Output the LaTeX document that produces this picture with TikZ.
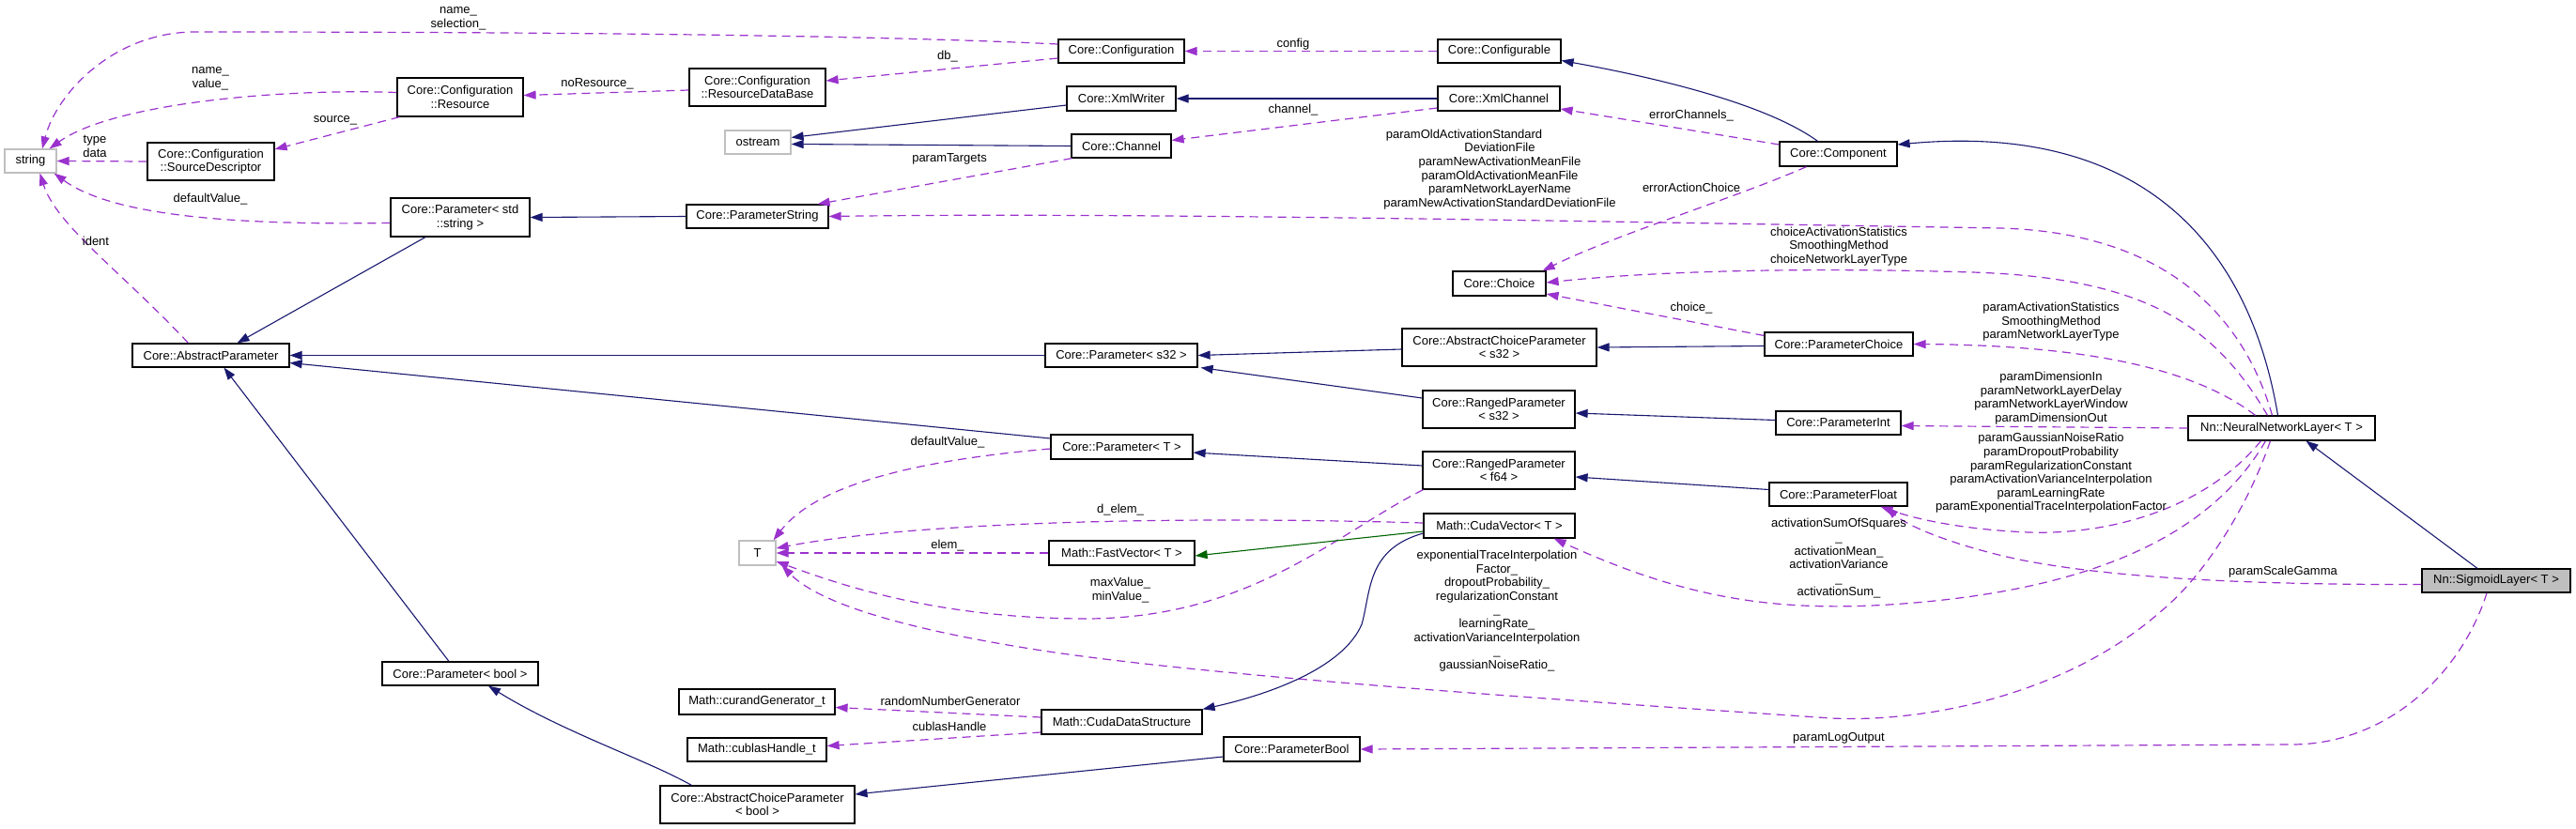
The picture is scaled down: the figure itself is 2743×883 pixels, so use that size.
\documentclass[tikz,border=0pt]{standalone}
\usepackage{fontspec}
\setmainfont{Liberation Sans}
\usetikzlibrary{arrows.meta,calc}
\definecolor{navy}{HTML}{191970}
\definecolor{orch}{HTML}{9A32CD}
\definecolor{dgreen}{HTML}{006400}
\definecolor{lgray}{HTML}{BFBFBF}
\begin{document}
\begin{tikzpicture}[x=1pt,y=-1pt,
  every node/.style={font=\fontsize{13}{14.6}\selectfont},
  box/.style={draw=black, line width=1.2pt, fill=white, inner sep=0pt, align=center},
  gbox/.style={box, draw=lgray},
  sbox/.style={box, fill=lgray},
  lbl/.style={inner sep=0pt, align=center},
  inh/.style={draw=navy, line width=1.1pt, -{Triangle[length=13pt,width=9pt]}},
  usee/.style={draw=orch, line width=1.2pt, dash pattern=on 9pt off 6pt, -{Triangle[length=13pt,width=9pt]}},
  tmpl/.style={draw=dgreen, line width=1.1pt, -{Triangle[length=13pt,width=9pt]}}]
\useasboundingbox[fill=white] (0,0) rectangle (2743,883);

% nodes
\node[gbox, minimum width=55pt, minimum height=25pt] (str) at (32.5,171.5) {string};
\node[box, minimum width=134pt, minimum height=41pt] (res) at (490,103.5) {Core::Configuration\\::Resource};
\node[box, minimum width=145pt, minimum height=40pt] (rdb) at (806.5,93) {Core::Configuration\\::ResourceDataBase};
\node[gbox, minimum width=70pt, minimum height=25pt] (ostr) at (807,151.5) {ostream};
\node[box, minimum width=135pt, minimum height=40pt] (srcd) at (224.5,172) {Core::Configuration\\::SourceDescriptor};
\node[box, minimum width=148pt, minimum height=41pt] (pstd) at (490,231.5) {Core::Parameter< std\\::string >};
\node[box, minimum width=151pt, minimum height=25pt] (pstr) at (806.5,230.5) {Core::ParameterString};
\node[box, minimum width=167pt, minimum height=25pt] (absp) at (224.5,378.5) {Core::AbstractParameter};
\node[box, minimum width=134pt, minimum height=25pt] (conf) at (1194,54.5) {Core::Configuration};
\node[box, minimum width=131pt, minimum height=25pt] (cfgb) at (1596.5,54.5) {Core::Configurable};
\node[box, minimum width=116pt, minimum height=26pt] (xmlw) at (1194,105) {Core::XmlWriter};
\node[box, minimum width=130pt, minimum height=26pt] (xmlc) at (1596,105) {Core::XmlChannel};
\node[box, minimum width=106pt, minimum height=25pt] (chan) at (1194,155.5) {Core::Channel};
\node[box, minimum width=125pt, minimum height=26pt] (comp) at (1957.5,164) {Core::Component};
\node[box, minimum width=99pt, minimum height=26pt] (choi) at (1596.5,302) {Core::Choice};
\node[box, minimum width=162pt, minimum height=25pt] (ps32) at (1194,378.5) {Core::Parameter< s32 >};
\node[box, minimum width=207pt, minimum height=40pt] (acs32) at (1596.5,370) {Core::AbstractChoiceParameter\\< s32 >};
\node[box, minimum width=158pt, minimum height=25pt] (pcho) at (1958,366.5) {Core::ParameterChoice};
\node[box, minimum width=162pt, minimum height=40pt] (rs32) at (1596,436) {Core::RangedParameter\\< s32 >};
\node[box, minimum width=133pt, minimum height=25pt] (pint) at (1957.5,450.5) {Core::ParameterInt};
\node[box, minimum width=199pt, minimum height=26pt] (nnl) at (2429.5,456) {Nn::NeuralNetworkLayer< T >};
\node[box, minimum width=151pt, minimum height=26pt] (pT) at (1194.5,476) {Core::Parameter< T >};
\node[box, minimum width=162pt, minimum height=40pt] (rf64) at (1596,501) {Core::RangedParameter\\< f64 >};
\node[box, minimum width=147pt, minimum height=25pt] (pflt) at (1957.5,526.5) {Core::ParameterFloat};
\node[box, minimum width=161pt, minimum height=26pt] (cvec) at (1596.5,560) {Math::CudaVector< T >};
\node[box, minimum width=155pt, minimum height=26pt] (fvec) at (1194.5,589) {Math::FastVector< T >};
\node[box, minimum width=171pt, minimum height=26pt] (cds) at (1194.5,769) {Math::CudaDataStructure};
\node[box, minimum width=145pt, minimum height=26pt] (pbool) at (1375.5,798) {Core::ParameterBool};
\node[box, minimum width=207pt, minimum height=40pt] (acpb) at (806.5,857) {Core::AbstractChoiceParameter\\< bool >};
\node[gbox, minimum width=39pt, minimum height=26pt] (T) at (806.5,589) {T};
\node[box, minimum width=166pt, minimum height=25pt] (pbl) at (490,717.5) {Core::Parameter< bool >};
\node[box, minimum width=166pt, minimum height=27pt] (curg) at (806,747.5) {Math::curandGenerator\_t};
\node[box, minimum width=148pt, minimum height=25pt] (cubh) at (806,798.5) {Math::cublasHandle\_t};
\node[sbox, minimum width=158pt, minimum height=25pt] (sig) at (2658,618.5) {Nn::SigmoidLayer< T >};

% edges
\draw[usee] ($(conf.west)+(0,-7.5)$) .. controls (900,36) and (500,34) .. (206,34) .. controls (120,35) and (60,100) .. ($(str.north)+(12.5,0)$);
\draw[usee] ($(conf.west)+(0,7.5)$) -- ($(rdb.east)+(0,-7)$);
\draw[usee] ($(rdb.west)+(0,3)$) -- ($(res.east)+(0,-2)$);
\draw[usee] ($(res.west)+(0,-5)$) .. controls (300,94) and (120,110) .. ($(str.north east)+(-8,0)$);
\draw[usee] ($(res.south west)+(3,0)$) -- ($(srcd.east)+(0,-13)$);
\draw[usee] (srcd.west) -- (str.east);
\draw[usee] ($(pstd.west)+(0,6)$) .. controls (250,240) and (120,230) .. ($(str.south east)+(-3,0)$);
\draw[usee] ($(absp.north)+(-24,0)$) .. controls (130,290) and (60,240) .. ($(str.south)+(10,0)$);
\draw[inh] ($(xmlw.west)+(0,7)$) -- ($(ostr.east)+(0,-5)$);
\draw[inh] (chan.west) -- ($(ostr.east)+(0,2)$);
\draw[inh] (xmlc.west) -- (xmlw.east);
\draw[usee] ($(xmlc.west)+(0,10)$) -- ($(chan.east)+(0,-6)$);
\draw[usee] (cfgb.west) -- (conf.east);
\draw[inh] ($(comp.north)+(-22,0)$) .. controls (1880,110) and (1760,82) .. ($(cfgb.east)+(0,10)$);
\draw[usee] ($(comp.west)+(0,-10)$) -- ($(xmlc.east)+(0,11)$);
\draw[usee] ($(comp.south)+(-34,0)$) .. controls (1850,210) and (1720,250) .. ($(choi.north east)+(-4,0)$);
\draw[usee] ($(chan.south west)+(1,0)$) -- ($(pstr.north east)+(-12,0)$);
\draw[inh] (pstr.west) -- (pstd.east);
\draw[usee] ($(nnl.north)+(-10,0)$) .. controls (2390,340) and (2310,248) .. (2130,243) .. controls (1700,236) and (1200,226) .. (pstr.east);
\draw[usee] ($(nnl.north)+(-15,0)$) .. controls (2360,350) and (2290,296) .. (2100,290) .. controls (1900,284) and (1750,290) .. ($(choi.east)+(0,-1)$);
\draw[usee] ($(pcho.west)+(0,-9)$) -- ($(choi.east)+(0,11)$);
\draw[usee] ($(nnl.north)+(-28,0)$) .. controls (2340,395) and (2230,368) .. (pcho.east);
\draw[inh] ($(pcho.west)+(0,2)$) -- (acs32.east);
\draw[inh] ($(acs32.west)+(0,2)$) -- (ps32.east);
\draw[inh] ($(rs32.west)+(0,-12)$) -- ($(ps32.south east)+(3,0)$);
\draw[inh] ($(pint.west)+(0,-3)$) -- ($(rs32.east)+(0,4)$);
\draw[usee] (nnl.west) -- ($(pint.east)+(0,3)$);
\draw[inh] ($(pstd.south)+(-37,0)$) -- ($(absp.north)+(28,0)$);
\draw[inh] (ps32.west) -- (absp.east);
\draw[inh] ($(pT.west)+(0,-9)$) -- ($(absp.east)+(0,8)$);
\draw[inh] ($(pbl.north)+(-12,0)$) -- ($(absp.south)+(14,0)$);
\draw[inh] ($(acpb.north west)+(34,0)$) .. controls (690,810) and (600,780) .. ($(pbl.south)+(30,0)$);
\draw[inh] ($(pbool.west)+(0,8)$) -- ($(acpb.east)+(0,-11)$);
\draw[inh] ($(rf64.west)+(0,-5)$) -- ($(pT.east)+(0,6)$);
\draw[inh] ($(pflt.west)+(0,-5)$) -- ($(rf64.east)+(0,7)$);
\draw[usee] ($(pT.west)+(0,2)$) .. controls (980,490) and (870,515) .. ($(T.north east)+(-3,0)$);
\draw[usee] ($(cvec.west)+(0,-3)$) .. controls (1200,548) and (950,560) .. ($(T.east)+(0,-5)$);
\draw[usee] (fvec.west) -- (T.east);
\draw[usee] ($(rf64.south west)+(1,0)$) .. controls (1420,570) and (1330,660) .. (1152,659) .. controls (1000,658) and (900,625) .. ($(T.east)+(0,9)$);
\draw[usee] ($(nnl.south)+(-12,0)$) .. controls (2390,550) and (2340,620) .. (2300,652) .. controls (2200,740) and (2050,770) .. (1950,765) .. controls (1700,748) and (1300,722) .. (1110,693) .. controls (1000,676) and (880,650) .. ($(T.south east)+(6,0)$);
\draw[usee] ($(nnl.south)+(-17,0)$) .. controls (2360,560) and (2250,622) .. (2050,641) .. controls (1900,655) and (1800,640) .. ($(cvec.south east)+(-23,0)$);
\draw[usee] ($(nnl.south)+(-22,0)$) .. controls (2350,540) and (2250,570) .. (2160,567) .. controls (2090,564) and (2040,553) .. ($(pflt.south)+(45,0)$);
\draw[usee] ($(sig.west)+(0,4)$) .. controls (2400,623) and (2250,616) .. (2150,596) .. controls (2080,581) and (2030,560) .. ($(pflt.south)+(51,0)$);
\draw[inh] ($(sig.north)+(-20,0)$) -- ($(nnl.south)+(26,0)$);
\draw[inh] ($(nnl.north)+(-4,0)$) .. controls (2395,260) and (2280,130) .. ($(comp.east)+(0,-10)$);
\draw[usee] ($(sig.south)+(-10,0)$) .. controls (2620,720) and (2540,793) .. (2440,793) -- (pbool.east);
\draw[tmpl] ($(cvec.west)+(0,6)$) -- ($(fvec.east)+(0,3)$);
\draw[inh] ($(cvec.west)+(0,8)$) .. controls (1455,585) and (1460,630) .. (1450,665) .. controls (1430,712) and (1350,740) .. (cds.north east);
\draw[usee] ($(cds.west)+(0,-5)$) -- ($(curg.east)+(0,6)$);
\draw[usee] ($(cds.west)+(0,11)$) -- ($(cubh.east)+(0,-4)$);

% labels
\node[lbl] (l1) at (488,19.5) {name\_\\selection\_};
\node[lbl] (l2) at (224,83.5) {name\_\\value\_};
\node[lbl] (l3) at (636,89) {noResource\_};
\node[lbl] (l4) at (357,128) {source\_};
\node[lbl] (l5) at (101,156) {type\\data};
\node[lbl] (l6) at (224,212) {defaultValue\_};
\node[lbl] (l7) at (102,257) {ident};
\node[lbl] (l8) at (1009,60) {db\_};
\node[lbl] (l9) at (1377,47) {config};
\node[lbl] (l10) at (1377,117) {channel\_};
\node[lbl] (l11) at (1801,123) {errorChannels\_};
\node[lbl] (l12) at (1801,200) {errorActionChoice};
\node[lbl] (l13) at (1011,169) {paramTargets};
\node[lbl] (l14) at (1597,180.5) {paramOldActivationStandard\hspace*{76pt}\\DeviationFile\\paramNewActivationMeanFile\\paramOldActivationMeanFile\\paramNetworkLayerName\\paramNewActivationStandardDeviationFile};
\node[lbl] (l15) at (1958,262.5) {choiceActivationStatistics\\SmoothingMethod\\choiceNetworkLayerType};
\node[lbl] (l16) at (1801,328) {choice\_};
\node[lbl] (l17) at (2184,343) {paramActivationStatistics\\SmoothingMethod\\paramNetworkLayerType};
\node[lbl] (l18) at (2184,424) {paramDimensionIn\\paramNetworkLayerDelay\\paramNetworkLayerWindow\\paramDimensionOut};
\node[lbl] (l19) at (2184,504) {paramGaussianNoiseRatio\\paramDropoutProbability\\paramRegularizationConstant\\paramActivationVarianceInterpolation\\paramLearningRate\\paramExponentialTraceInterpolationFactor};
\node[lbl] (l20) at (1958,595) {activationSumOfSquares\\\_\\activationMean\_\\activationVariance\hspace*{44pt}\\\_\\activationSum\_};
\node[lbl] (l21) at (1594,650.5) {exponentialTraceInterpolation\\Factor\_\\dropoutProbability\_\\regularizationConstant\hspace*{50pt}\\\_\\learningRate\_\\activationVarianceInterpolation\\\_\\gaussianNoiseRatio\_};
\node[lbl] (l22) at (2431,609) {paramScaleGamma};
\node[lbl] (l23) at (1958,786) {paramLogOutput};
\node[lbl] (l24) at (1012,747) {randomNumberGenerator};
\node[lbl] (l25) at (1011,774) {cublasHandle};
\node[lbl] (l26) at (1009,471) {defaultValue\_};
\node[lbl] (l27) at (1193,543) {d\_elem\_};
\node[lbl] (l28) at (1009,581) {elem\_};
\node[lbl] (l29) at (1193,628.5) {maxValue\_\\minValue\_};
\end{tikzpicture}
\end{document}
